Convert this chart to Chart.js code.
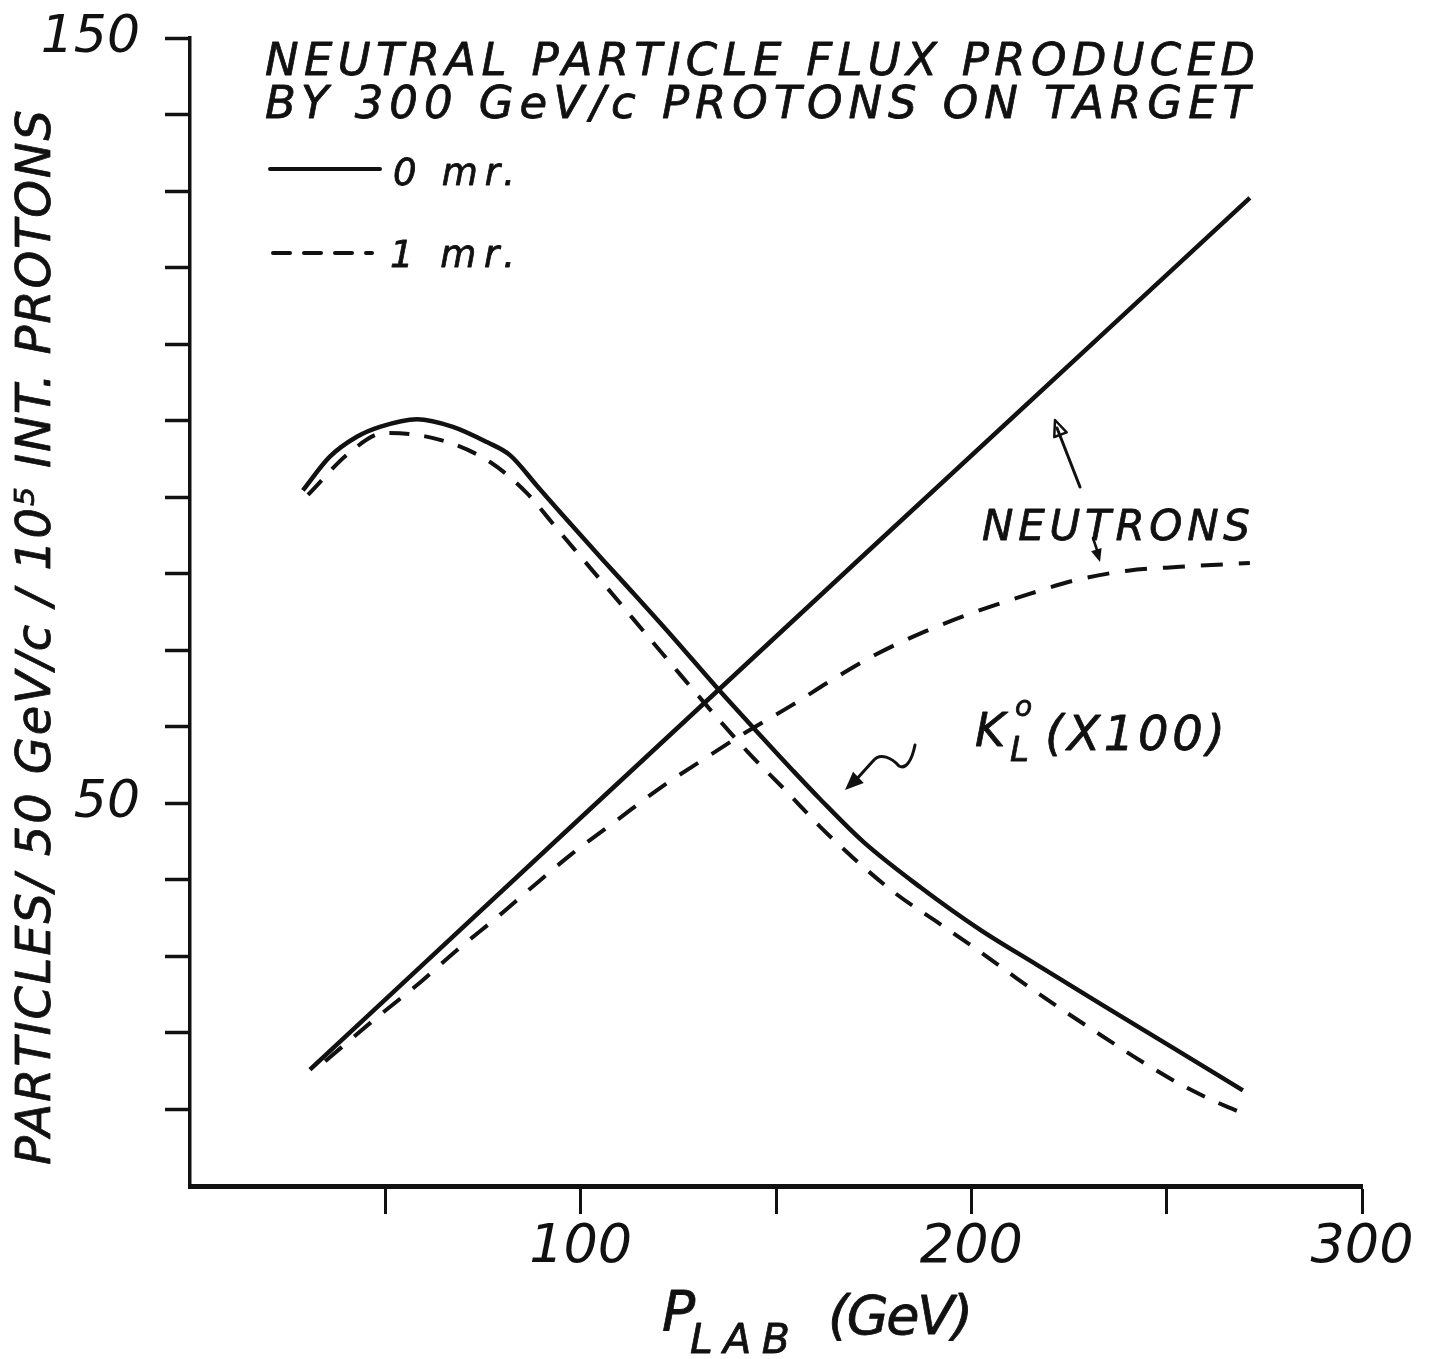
<!DOCTYPE html>
<html>
<head>
<meta charset="utf-8">
<title>Neutral particle flux</title>
<script src="https://cdn.jsdelivr.net/npm/chart.js@4/dist/chart.umd.min.js"></script>
<style>
  body { margin: 0; background: #fff; }
  #wrap { position: relative; width: 1433px; height: 1359px; }
</style>
</head>
<body>
<div id="wrap"><canvas id="fluxChart"></canvas></div>
<script>
// values: P_LAB in GeV/c, particles per 50 GeV/c per 10^5 protons
const kaon0mrP = [28.9, 35.8, 42.7, 48.6, 58.1, 67.3, 76.0, 81.9, 88.8, 95.5, 105.7, 113.4, 123.1, 134.9, 145.6, 154.3, 161.2, 172.3, 186.8, 202.2, 216.8, 233.7, 250.8, 269.5];
const kaon0mrFlux = [90.9, 95.3, 97.9, 99.2, 100.2, 99.2, 97.2, 95.5, 91.5, 87.6, 81.8, 77.5, 72.0, 65.1, 59.1, 54.3, 50.6, 45.0, 39.1, 33.5, 28.9, 23.6, 18.3, 12.5];

const kaon1mrP = [30.2, 41.0, 49.9, 64.0, 76.8, 86.3, 93.9, 102.4, 110.0, 118.2, 126.7, 134.4, 142.8, 152.8, 161.2, 169.7, 180.4, 191.2, 201.7, 211.7, 222.2, 232.9, 243.2, 254.2, 265.7, 268.7];
const kaon1mrFlux = [90.3, 95.9, 98.4, 97.5, 94.6, 90.5, 85.9, 80.8, 76.2, 71.2, 66.1, 61.5, 56.7, 51.5, 47.0, 42.9, 38.3, 34.5, 30.8, 27.1, 23.4, 19.8, 16.4, 13.1, 10.3, 9.7];

const neutron0mrP = [30.7, 94.7, 170.7, 271.3];
const neutron0mrFlux = [15.2, 45.6, 81.6, 129.1];

const neutron1mrP = [34.6, 47.3, 58.9, 68.3, 78.8, 87.0, 97.5, 109.3, 120.3, 131.3, 142.0, 154.0, 164.6, 175.8, 187.9, 200.9, 214.5, 227.0, 240.1, 253.4, 271.3];
const neutron1mrFlux = [16.3, 21.8, 26.6, 30.8, 35.2, 38.8, 43.3, 47.8, 52.0, 55.7, 59.2, 62.8, 66.2, 69.5, 72.4, 75.0, 77.3, 79.2, 80.4, 80.9, 81.4];

const xLabels = [100, 200, 300];
const yLabels = [50, 150];

const ink = '#111';
const face = '"DejaVu Sans", "Liberation Sans", sans-serif';

function pts(xs, ys) {
    return xs.map((x, i) => ({ x: x, y: ys[i] }));
}

// hand lettering: widely spaced, so stretch each string to the width it has in the drawing
function spaced(ctx, text, x, y, width, font) {
    ctx.font = font;
    ctx.letterSpacing = '0px';
    const w0 = ctx.measureText(text).width;
    ctx.letterSpacing = ((width - w0) / (text.length - 1)) + 'px';
    ctx.fillText(text, x, y);
    ctx.strokeText(text, x, y);
    ctx.letterSpacing = '0px';
}

function arrowHead(ctx, tipX, tipY, fromX, fromY, size, filled) {
    const a = Math.atan2(tipY - fromY, tipX - fromX);
    ctx.beginPath();
    ctx.moveTo(tipX, tipY);
    ctx.lineTo(tipX - size * Math.cos(a - 0.4), tipY - size * Math.sin(a - 0.4));
    ctx.lineTo(tipX - size * Math.cos(a + 0.4), tipY - size * Math.sin(a + 0.4));
    ctx.closePath();
    if (filled) ctx.fill(); else ctx.stroke();
}

const notes = {
    id: 'notes',
    afterDraw(chart) {
        const ctx = chart.ctx;
        ctx.save();
        ctx.fillStyle = ink;
        ctx.strokeStyle = ink;
        ctx.textAlign = 'left';
        ctx.textBaseline = 'alphabetic';
        ctx.lineCap = 'round';
        ctx.lineJoin = 'round';
        ctx.lineWidth = 0.8;

        // title
        spaced(ctx, 'NEUTRAL PARTICLE FLUX PRODUCED', 265, 75, 990, 'italic 45px ' + face);
        spaced(ctx, 'BY 300 GeV/c PROTONS ON TARGET', 265, 118, 985, 'italic 45px ' + face);

        // legend
        spaced(ctx, '0 mr.', 393, 185, 122, 'italic 37px ' + face);
        spaced(ctx, '1 mr.', 390, 267, 125, 'italic 37px ' + face);
        ctx.lineWidth = 4;
        ctx.beginPath(); ctx.moveTo(270, 169); ctx.lineTo(380, 169); ctx.stroke();
        ctx.setLineDash([17, 14]);
        ctx.beginPath(); ctx.moveTo(273, 253); ctx.lineTo(372, 253); ctx.stroke();
        ctx.setLineDash([]);

        // neutrons label and arrows
        ctx.lineWidth = 0.8;
        spaced(ctx, 'NEUTRONS', 982, 540, 268, 'italic 42px ' + face);
        ctx.lineWidth = 3;
        ctx.beginPath(); ctx.moveTo(1080, 487); ctx.lineTo(1057, 428); ctx.stroke();
        ctx.lineWidth = 2.5;
        arrowHead(ctx, 1055, 420, 1080, 487, 17, false);
        ctx.beginPath(); ctx.moveTo(1093, 538); ctx.lineTo(1098, 553); ctx.stroke();
        arrowHead(ctx, 1100, 562, 1093, 538, 14, true);

        // kaon label with wavy arrow
        ctx.lineWidth = 0.8;
        spaced(ctx, 'K', 975, 746, 30, 'italic 46px ' + face);
        spaced(ctx, 'o', 1015, 716, 14, 'italic 28px ' + face);
        spaced(ctx, 'L', 1010, 761, 20, 'italic 34px ' + face);
        spaced(ctx, '(X100)', 1045, 750, 180, 'italic 48px ' + face);
        ctx.lineWidth = 3;
        ctx.beginPath();
        ctx.moveTo(915, 745);
        ctx.bezierCurveTo(912, 760, 906, 770, 899, 766);
        ctx.bezierCurveTo(892, 758, 880, 752, 873, 761);
        ctx.lineTo(854, 782);
        ctx.stroke();
        arrowHead(ctx, 845, 790, 862, 774, 20, true);

        // axis titles
        ctx.lineWidth = 0.8;
        ctx.save();
        ctx.translate(50, 1165);
        ctx.rotate(-Math.PI / 2);
        spaced(ctx, 'PARTICLES/ 50 GeV/c / 10\u2075 INT. PROTONS', 0, 0, 1055, 'italic 48px ' + face);
        ctx.restore();
        spaced(ctx, 'P', 662, 1330, 38, 'italic 55px ' + face);
        spaced(ctx, 'LAB', 690, 1353, 100, 'italic 41px ' + face);
        spaced(ctx, '(GeV)', 828, 1334, 145, 'italic 54px ' + face);

        ctx.restore();
    }
};

const lineStyle = { borderColor: ink, pointRadius: 0, fill: false, cubicInterpolationMode: 'monotone' };

new Chart(document.getElementById('fluxChart'), {
    type: 'line',
    data: {
        datasets: [
            Object.assign({ label: 'K0L 0 mr', data: pts(kaon0mrP, kaon0mrFlux), borderWidth: 4.5 }, lineStyle),
            Object.assign({ label: 'K0L 1 mr', data: pts(kaon1mrP, kaon1mrFlux), borderWidth: 4, borderDash: [20, 15] }, lineStyle),
            Object.assign({ label: 'Neutrons 0 mr', data: pts(neutron0mrP, neutron0mrFlux), borderWidth: 4.5 }, lineStyle),
            Object.assign({ label: 'Neutrons 1 mr', data: pts(neutron1mrP, neutron1mrFlux), borderWidth: 4, borderDash: [22, 16] }, lineStyle)
        ]
    },
    options: {
        responsive: true,
        maintainAspectRatio: false,
        animation: false,
        layout: { padding: { top: 38, right: 71, left: 0, bottom: 0 } },
        plugins: { legend: { display: false }, title: { display: false }, tooltip: { enabled: false } },
        scales: {
            x: {
                type: 'linear', min: 0, max: 300,
                afterFit: scale => { scale.height = 173; },
                border: { display: true, color: ink, width: 5 },
                grid: { drawOnChartArea: false, tickLength: 28, tickWidth: 3, tickColor: c => c.tick && c.tick.value === 0 ? 'rgba(0,0,0,0)' : ink },
                ticks: {
                    stepSize: 50, autoSkip: false, maxRotation: 0, padding: 2, color: ink,
                    font: { family: face, size: 54, style: 'italic' },
                    callback: v => xLabels.includes(v) ? String(v) : ''
                }
            },
            y: {
                type: 'linear', min: 0, max: 150,
                // tick padding would otherwise push the plot top down
                afterFit: scale => { scale.width = 190; scale.paddingTop = 0; scale.paddingBottom = 0; },
                border: { display: true, color: ink, width: 3.5 },
                grid: { drawOnChartArea: false, tickLength: 25, tickWidth: 3.5, tickColor: c => c.tick && c.tick.value === 0 ? 'rgba(0,0,0,0)' : ink },
                ticks: {
                    stepSize: 10, autoSkip: false, padding: 25, color: ink,
                    font: { family: face, size: 52, style: 'italic' },
                    callback: v => yLabels.includes(v) ? String(v) : ''
                }
            }
        }
    },
    plugins: [notes]
});
</script>
</body>
</html>
